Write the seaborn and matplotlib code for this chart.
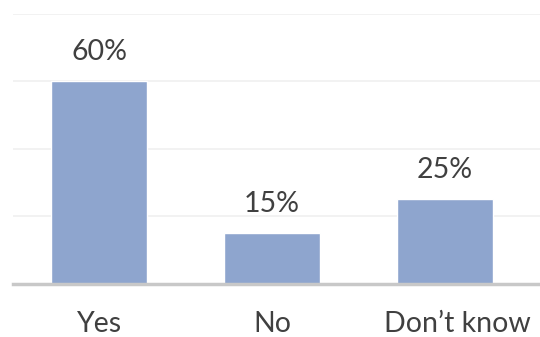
import matplotlib
matplotlib.use("Agg")
import matplotlib.pyplot as plt
import matplotlib.transforms as mtransforms
import seaborn as sns
import pandas as pd

categories = ["Yes", "No", "Don\u2019t know"]
values = [60, 15, 25]
labels = ["60%", "15%", "25%"]

sns.set_style("white")
plt.rcParams["font.family"] = ["Lato", "DejaVu Sans"]

df = pd.DataFrame({"answer": categories, "share": values})

fig = plt.figure(figsize=(5.4, 3.37), dpi=100)
ax = fig.add_axes([13 / 540, (337 - 283.5) / 337, 527 / 540, 270 / 337])

sns.barplot(data=df, x="answer", y="share", color="#8EA5CE", saturation=1,
            width=0.555, ax=ax, zorder=2)

ax.set_ylim(0, 80)
ax.set_xlim(-0.5, 2.55)
ax.set_yticks([0, 20, 40, 60, 80])
ax.yaxis.grid(True, color="#F0F0F0", linewidth=1.2, zorder=0)
ax.set_axisbelow(True)
ax.tick_params(axis="y", left=False, labelleft=False)
ax.tick_params(axis="x", bottom=False, labelsize=20.5, labelcolor="#404040", pad=16.5)
ax.set_xlabel("")
ax.set_ylabel("")
for side in ["left", "right", "top"]:
    ax.spines[side].set_visible(False)
ax.spines["bottom"].set_color("#C8C8C8")
ax.spines["bottom"].set_linewidth(2.5)

# the last category label sits a little to the right of its bar
last = ax.get_xticklabels()[-1]
last.set_transform(last.get_transform()
                   + mtransforms.ScaledTranslation(12 / 100, 0, fig.dpi_scale_trans))

for container in ax.containers:
    ax.bar_label(container, labels=labels, padding=11.5, fontsize=20.5, color="#404040")

fig.savefig("out.png", dpi=100)
